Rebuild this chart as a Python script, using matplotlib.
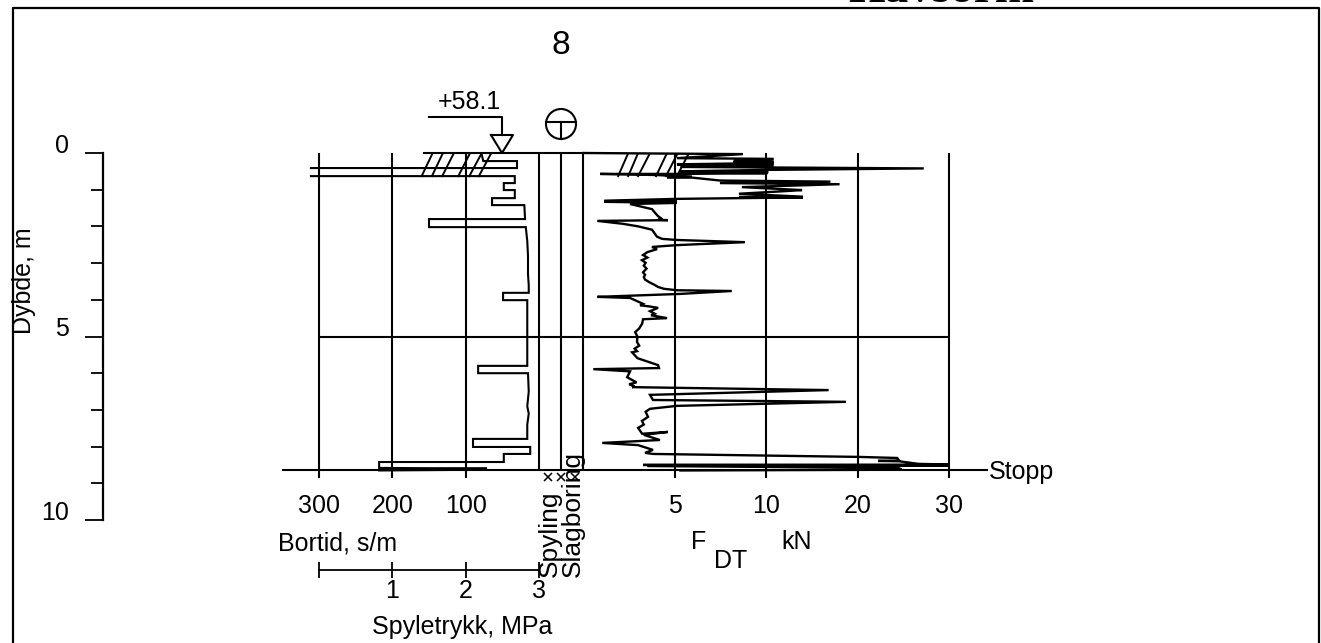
import numpy as np
import matplotlib
matplotlib.use("Agg")
import matplotlib.pyplot as plt
from matplotlib.lines import Line2D
from matplotlib.patches import Circle

W, H = 1321, 643

# bortid trace, s/m against depth, m (the gap is where the trace runs off the scale)
bortid_time = [78, 76, 30, 30, 311, np.nan, 311, 33, 33, 48, 48, 33, 33, 64, 64, 20, 19, 150, 150, 18,
               16, 15, 15, 14, 14, 49, 49, 16, 16, 83, 83, 15, 14, 16, 14, 16, 16, 90, 90, 12,
               12, 48, 48, 218, 218, 71, 218, 71, 218]
bortid_depth = [0.05, 0.22, 0.22, 0.41, 0.41, np.nan, 0.63, 0.63, 0.82, 0.82, 1.01, 1.01, 1.23, 1.23, 1.42,
                1.42, 1.80, 1.80, 2.02, 2.02, 2.40, 2.80, 3.30, 3.60, 3.81, 3.81, 4.01, 4.01, 5.80,
                5.80, 6.00, 6.00, 6.50, 6.90, 7.10, 7.40, 7.79, 7.79, 8.01, 8.01, 8.20, 8.20, 8.42,
                8.42, 8.58, 8.60, 8.62, 8.63, 8.65]

# FDT trace, kN against depth, m
force_kn = [0, 8.72, 5.11, 10.8, 8.2, 10.8, 8.2, 10.8, 5.11, 10.8,
            5.3, 27.2, 10.1, 5.3, 10.2, 5.4, 10.1, 5.27, 0.92, 4.0,
            5.93, 4.57, 5.93, 7.46, 17.0, 7.46, 18.0, 8.66, 13.9, 12.0,
            8.50, 14.0, 8.5, 14.0, 5.11, 1.14, 5.11, 1.14, 5.11, 2.55,
            3.75, 3.95, 4.08, 4.30, 4.08, 4.62, 0.76, 2.17, 3.00, 3.75,
            4.02, 4.30, 5.11, 8.83, 5.11, 3.75, 4.02, 3.50, 3.26, 3.50,
            3.20, 3.40, 3.30, 3.45, 3.26, 3.37, 3.30, 3.37, 3.60, 3.91,
            4.08, 4.40, 5.11, 8.11, 5.27, 0.76, 2.55, 3.26, 3.10, 3.60,
            4.08, 3.64, 3.90, 3.70, 4.57, 3.26, 3.21, 3.05, 2.83, 2.95,
            2.93, 3.05, 2.80, 2.93, 2.66, 2.95, 4.08, 4.13, 0.54, 2.55,
            2.39, 2.90, 2.50, 2.80, 2.66, 16.8, 3.64, 3.80, 18.7, 5.11,
            3.64, 3.40, 3.53, 3.20, 3.30, 2.99, 3.21, 4.62, 3.30, 4.18,
            1.03, 2.99, 3.80, 3.37, 3.80, 19.9, 24.3, 24.5, 22.2, 24.5,
            26.6, 30.1, 3.26, 30.1, 3.5, 24.3, 24.8, 24.0, 24.8, 5.3]
force_depth = [0, 0.03, 0.14, 0.16, 0.22, 0.24, 0.26, 0.27, 0.31, 0.33,
               0.38, 0.42, 0.46, 0.50, 0.52, 0.53, 0.55, 0.57, 0.57, 0.60,
               0.65, 0.66, 0.67, 0.75, 0.78, 0.82, 0.85, 0.93, 1.01, 1.04,
               1.11, 1.19, 1.20, 1.21, 1.25, 1.30, 1.32, 1.33, 1.36, 1.39,
               1.53, 1.65, 1.72, 1.80, 1.82, 1.83, 1.85, 1.93, 2.00, 2.09,
               2.28, 2.34, 2.37, 2.43, 2.51, 2.56, 2.62, 2.70, 2.78, 2.85,
               2.92, 2.99, 3.07, 3.15, 3.25, 3.32, 3.38, 3.45, 3.52, 3.60,
               3.65, 3.70, 3.74, 3.76, 3.84, 3.92, 3.95, 4.11, 4.15, 4.18,
               4.22, 4.31, 4.38, 4.42, 4.50, 4.53, 4.65, 4.78, 4.88, 5.00,
               5.15, 5.25, 5.33, 5.40, 5.43, 5.59, 5.78, 5.86, 5.89, 5.95,
               6.11, 6.25, 6.30, 6.36, 6.38, 6.46, 6.59, 6.73, 6.78, 6.89,
               6.97, 7.05, 7.19, 7.30, 7.40, 7.49, 7.65, 7.60, 7.68, 7.82,
               7.90, 7.96, 8.09, 8.17, 8.20, 8.28, 8.31, 8.38, 8.39, 8.40,
               8.47, 8.49, 8.50, 8.51, 8.53, 8.58, 8.62, 8.60, 8.63, 8.65]

# hatch strokes at the top layer (depth 0 to 0.63)
hatch_time_low = [160, 146, 132, 110, 95, 82]
hatch_time_high = [145, 131, 116, 94, 78, 65]
hatch_force_low = [1.90, 2.45, 2.99, 3.97, 4.51, 5.11]
hatch_force_high = [2.45, 2.99, 3.64, 4.57, 5.16, 5.77]

time_ticks = [300, 200, 100]
force_ticks = [5, 10, 20, 30]
force_stops = [0, 5, 10, 20, 30]
depth_major = [0, 5, 10]
depth_minor = [1, 2, 3, 4, 6, 7, 8, 9]
pressure_ticks = [1, 2, 3]
stop_depth = 8.65
layer_depth = 0.63
grid_end = 8.86

TEXT = 18
LW = 1.5


def force_forward(f):
    return np.interp(f, force_stops, [0, 1, 2, 3, 4])


def force_inverse(p):
    return np.interp(p, [0, 1, 2, 3, 4], force_stops)


def make_axes(fig, left, right, top, bottom):
    ax = fig.add_axes([left / W, 1 - bottom / H, (right - left) / W, (bottom - top) / H])
    ax.patch.set_alpha(0)
    ax.set_ylim(10, 0)
    for spine in ax.spines.values():
        spine.set_visible(False)
    ax.set_xticks([])
    ax.set_yticks([])
    return ax


def put(fig, x, y, s, **kw):
    kw.setdefault("fontsize", TEXT)
    kw.setdefault("ha", "center")
    kw.setdefault("va", "center")
    fig.text(x / W, 1 - y / H, s, **kw)


def plotter():
    plt.rcParams["font.family"] = ["Liberation Sans", "DejaVu Sans"]
    fig = plt.figure(figsize=(W / 100, H / 100), dpi=100)

    # page frame, open at the bottom
    fx = [12.5 / W, 12.5 / W, 1319 / W, 1319 / W]
    fy = [0, 1 - 7.5 / H, 1 - 7.5 / H, 0]
    fig.add_artist(Line2D(fx, fy, color="black", lw=1.6))
    put(fig, 941, 2, "Havsorm", fontsize=34, family="Liberation Serif", weight="bold", va="baseline")

    # depth ruler
    ax_depth = make_axes(fig, 103, 949, 153, 520)
    ax_depth.set_xlim(0, 1)
    ax_depth.spines["left"].set_visible(True)
    ax_depth.spines["left"].set_linewidth(1.6)
    ax_depth.set_yticks(depth_major)
    ax_depth.set_yticks(depth_minor, minor=True)
    ax_depth.tick_params(axis="y", which="major", length=13, width=1.3, labelsize=TEXT, pad=11.5)
    ax_depth.tick_params(axis="y", which="minor", length=8.5, width=1.3)
    for label in ax_depth.get_yticklabels():
        label.set_verticalalignment("baseline")

    # bortid column
    ax_time = make_axes(fig, 319, 539, 153, 520)
    ax_time.set_xlim(300, 0)
    ax_time.vlines(time_ticks + [0], 0, [grid_end] * 3 + [stop_depth], color="black", lw=LW)
    ax_time.plot(bortid_time, bortid_depth, color="black", lw=LW, solid_joinstyle="miter", clip_on=False)
    ax_time.hlines(0, 158, 0, color="black", lw=LW)
    for low, high in zip(hatch_time_low, hatch_time_high):
        ax_time.plot([low, high], [layer_depth, 0], color="black", lw=1.4)
    for t in time_ticks:
        ax_time.text(t, 9.62, str(t), ha="center", va="center", fontsize=TEXT)

    # spyling / slagboring column
    ax_mode = make_axes(fig, 539, 583.4, 153, 520)
    ax_mode.set_xlim(0, 2)
    ax_mode.vlines([1, 2], 0, stop_depth, color="black", lw=LW, clip_on=False)
    ax_mode.plot([0.42, 1, 1.63], [8.82, 8.82, 8.82], ls="none", marker="x", ms=6, mew=1.1,
                 color="black", clip_on=False)
    ax_mode.hlines(0, 0, 2, color="black", lw=LW, clip_on=False)

    # FDT column
    ax_force = make_axes(fig, 583.4, 949.4, 153, 520)
    ax_force.set_xscale("function", functions=(force_forward, force_inverse))
    ax_force.set_xlim(0, 30)
    ax_force.set_xticks([])
    ax_force.minorticks_off()
    ax_force.vlines(force_ticks, 0, grid_end, color="black", lw=LW, clip_on=False)
    ax_force.plot(force_kn, force_depth, color="black", lw=1.7, solid_joinstyle="miter", clip_on=False)
    for low, high in zip(hatch_force_low, hatch_force_high):
        ax_force.plot([low, high], [layer_depth, 0], color="black", lw=1.4)
    for f in force_ticks:
        ax_force.text(f, 9.62, str(f), ha="center", va="center", fontsize=TEXT)

    # long horizontals run across every column
    ax_time.hlines(5, 300, -559, color="black", lw=LW)
    ax_time.hlines(stop_depth, 351, -612, color="black", lw=LW)
    for coll in ax_time.collections:
        coll.set_clip_on(False)

    # spyletrykk scale
    ax_press = fig.add_axes([319 / W, 1 - 570 / H, 220 / W, 0.0001])
    ax_press.patch.set_alpha(0)
    ax_press.set_xlim(0, 3)
    ax_press.set_yticks([])
    for name in ["top", "left", "right"]:
        ax_press.spines[name].set_visible(False)
    ax_press.spines["bottom"].set_linewidth(1.3)
    ax_press.set_xticks([0] + pressure_ticks, labels=[""] + [str(p) for p in pressure_ticks])
    ax_press.tick_params(axis="x", direction="inout", length=11, width=1.3, labelsize=TEXT, pad=1)

    # labels
    put(fig, 24, 281, "Dybde, m", rotation=90)
    put(fig, 561, 45, "8", fontsize=24)
    put(fig, 469, 102, "+58.1")
    put(fig, 338, 543, "Bortid, s/m")
    put(fig, 462, 627, "Spyletrykk, MPa")
    put(fig, 699, 542, "F")
    put(fig, 731, 561, "DT")
    put(fig, 797, 542, "kN")
    put(fig, 1021, 472, "Stopp")
    put(fig, 550, 577, "Spyling", rotation=90, va="bottom", fontsize=19)
    put(fig, 573, 577, "Slagboring", rotation=90, va="bottom", fontsize=19)

    # water level marker and drilling symbol
    def to_fig(px, py):
        return [p / W for p in px], [1 - p / H for p in py]

    lx, ly = to_fig([429, 502, 502], [117, 117, 135])
    fig.add_artist(Line2D(lx, ly, color="black", lw=LW))
    lx, ly = to_fig([491, 513, 502, 491], [135, 135, 153, 135])
    fig.add_artist(Line2D(lx, ly, color="black", lw=LW))
    lx, ly = to_fig([546, 576], [122, 122])
    fig.add_artist(Line2D(lx, ly, color="black", lw=LW))
    lx, ly = to_fig([561, 561], [122, 139])
    fig.add_artist(Line2D(lx, ly, color="black", lw=LW))
    fig.add_artist(Circle((561, H - 124), 15, transform=None, fill=False, ec="black", lw=LW))

    fig.savefig("out.png", dpi=100)


if __name__ == "__main__":
    plotter()
